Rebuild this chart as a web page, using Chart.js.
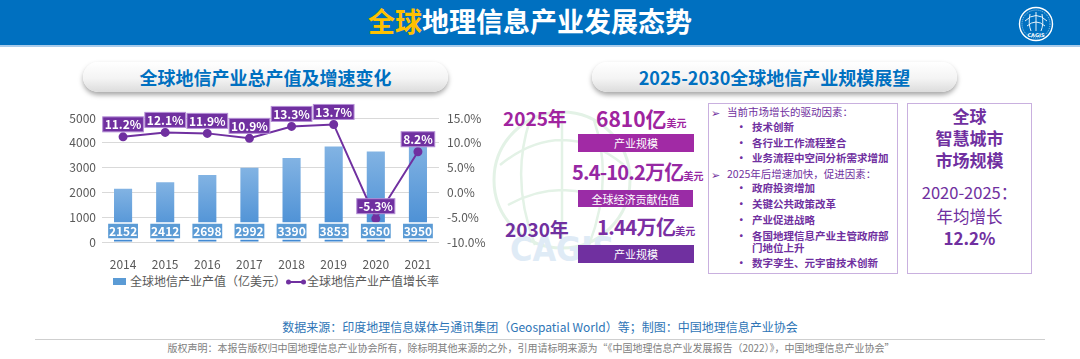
<!DOCTYPE html>
<html><head><meta charset="utf-8">
<script src="https://cdn.jsdelivr.net/npm/chart.js@4.4.1/dist/chart.umd.min.js"></script>
<style>
html,body{margin:0;padding:0;width:1080px;height:359px;overflow:hidden;background:#fff;font-family:"Noto Sans CJK SC","Noto Sans",sans-serif;}
.a{position:absolute;white-space:nowrap;line-height:1;}
.hdr{position:absolute;left:0;top:0;width:1080px;height:45px;background:#0070C0;}
.hdrline{position:absolute;left:0;top:45px;width:1080px;height:2px;background:#A9CBEA;}
.pill{position:absolute;height:30px;border-radius:15px;background:linear-gradient(to bottom,#FFFFFF 0%,#F4F4F4 55%,#DCDCDC 100%);box-shadow:0 3px 5px rgba(0,0,0,0.35);display:flex;align-items:center;justify-content:center;color:#0070C0;font-weight:bold;font-size:18px;}
.tag{position:absolute;color:#fff;font-size:11px;display:flex;align-items:center;justify-content:center;}
.box{position:absolute;border:1.5px solid #C9B0DF;box-sizing:border-box;}
.mt{position:absolute;white-space:nowrap;line-height:1;font-size:10.5px;color:#7030A0;}
.b{font-weight:bold;}
.rt{position:absolute;left:907px;width:125px;text-align:center;white-space:nowrap;line-height:1;color:#7030A0;}
.u{font-size:10px;letter-spacing:0;}
</style></head><body>
<div class="hdr"></div><div class="hdrline"></div>
<div class="a" style="left:368px;top:7px;font-size:27px;font-weight:bold;color:#fff;"><span style="color:#FFC000">全球</span>地理信息产业发展态势</div>
<svg class="a" style="left:1016px;top:4px;" width="40" height="40" viewBox="0 0 40 40">
  <circle cx="20" cy="20" r="16.5" fill="none" stroke="#fff" stroke-width="1.4"/>
  <circle cx="20" cy="20" r="14" fill="none" stroke="#fff" stroke-width="0.6" stroke-dasharray="1 1"/>
  <path d="M9 17 Q20 6 31 17 M11 22 Q20 14 29 22 M20 8 L20 27 M14 10 Q12 20 15 27 M26 10 Q28 20 25 27" fill="none" stroke="#fff" stroke-width="0.9"/>
  <text x="20" y="33" font-size="5" font-weight="bold" fill="#fff" text-anchor="middle" font-family="DejaVu Sans">CAGIS</text>
</svg>

<div class="pill" style="left:83px;top:62px;width:365px;">全球地信产业总产值及增速变化</div>
<div class="pill" style="left:592px;top:62px;width:365px;">2025-2030全球地信产业规模展望</div>

<svg class="a" style="left:480px;top:95px;" width="200" height="180" viewBox="0 0 200 180">
  <circle cx="82" cy="85" r="68" fill="none" stroke="#E3F2E6" stroke-width="3"/>
  <path d="M20 70 Q82 20 144 70 M28 110 Q82 80 136 110 M82 17 L82 153 M50 25 Q30 85 55 150 M114 25 Q134 85 109 150" fill="none" stroke="#E3F2E6" stroke-width="2.5"/>
  <text x="30" y="166" font-size="34" font-weight="bold" fill="#DFEBF6" font-family="DejaVu Sans Condensed">CAGIS</text>
</svg>

<div style="position:absolute;left:0;top:100px;width:500px;height:171px;"><canvas id="c" width="500" height="171"></canvas></div>

<div class="a" style="left:113px;top:278px;width:13px;height:7px;background:#5B9BD5;"></div>
<div class="a" style="left:130px;top:275px;font-size:12px;color:#595959;">全球地信产业产值（亿美元）</div>
<svg class="a" style="left:285px;top:278px;" width="22" height="8"><line x1="3" y1="4" x2="19" y2="4" stroke="#7030A0" stroke-width="2"/><circle cx="3.5" cy="4" r="2.5" fill="#7030A0"/><circle cx="18.5" cy="4" r="2.5" fill="#7030A0"/></svg>
<div class="a" style="left:307px;top:275px;font-size:12px;color:#595959;">全球地信产业产值增长率</div>

<div class="a b" style="left:503px;top:108px;font-size:19px;color:#A0249F;">2025年</div>
<div class="a b" style="left:596px;top:108px;font-size:21px;color:#A0249F;">6810亿<span class="u">美元</span></div>
<div class="tag" style="left:578px;top:134px;width:116px;height:18px;background:#A12AA5;">产业规模</div>
<div class="a b" style="left:572px;top:162px;font-size:20px;letter-spacing:-0.8px;color:#9628A3;">5.4-10.2万亿<span class="u">美元</span></div>
<div class="tag" style="left:578px;top:190px;width:115px;height:17px;background:#9A2CA6;">全球经济贡献估值</div>
<div class="a b" style="left:505px;top:219px;font-size:19px;color:#7030A0;">2030年</div>
<div class="a b" style="left:597px;top:217px;font-size:20px;letter-spacing:-0.6px;color:#7B2EA3;">1.44万亿<span class="u">美元</span></div>
<div class="tag" style="left:578px;top:245px;width:116px;height:18px;background:#7030A0;">产业规模</div>

<div class="box" style="left:708px;top:103px;width:190px;height:171px;"></div>
<div id="mid"></div>

<div class="box" style="left:907px;top:103px;width:125px;height:171px;"></div>
<div class="rt b" style="top:107px;font-size:17px;">全球</div>
<div class="rt b" style="top:129px;font-size:17px;">智慧城市</div>
<div class="rt b" style="top:151px;font-size:17px;">市场规模</div>
<div class="rt" style="top:184px;font-size:16.5px;">2020-2025：</div>
<div class="rt" style="top:208px;font-size:16.5px;">年均增长</div>
<div class="rt b" style="top:229px;font-size:17px;">12.2%</div>

<div class="a" style="left:0;width:1080px;text-align:center;top:321px;font-size:12px;color:#2E75B6;">数据来源：印度地理信息媒体与通讯集团（Geospatial World）等；制图：中国地理信息产业协会</div>
<div class="a" style="left:35px;top:339px;width:1010px;height:1px;background:#CFCFCF;"></div>
<div class="a" style="left:0;width:1062px;text-align:center;top:343px;font-size:10px;color:#808080;">版权声明：本报告版权归中国地理信息产业协会所有，除标明其他来源的之外，引用请标明来源为“《中国地理信息产业发展报告（2022）》，中国地理信息产业协会”</div>

<script>
const years = ['2014','2015','2016','2017','2018','2019','2020','2021'];
const outputValues = [2152, 2412, 2698, 2992, 3390, 3853, 3650, 3950];
const growthRates = [11.2, 12.1, 11.9, 10.9, 13.3, 13.7, -5.3, 8.2];
const outputAxis = {min: 0, max: 5000, step: 1000};
const rateAxis = {min: -10, max: 15, step: 5};
const driverHeading = '当前市场增长的驱动因素：';
const driverItems = ['技术创新', '各行业工作流程整合', '业务流程中空间分析需求增加'];
const promoteHeading = '2025年后增速加快，促进因素：';
const promoteItems = ['政府投资增加', '关键公共政策改革', '产业促进战略', ['各国地理信息产业主管政府部', '门地位上升'], '数字孪生、元宇宙技术创新'];

// middle text box
(function(){
  const mid = document.getElementById('mid');
  const rows = [113,128,144,159,175,189,205,221,237,249,264];
  let r = 0, html = '';
  const add = (x, txt, bold, fs, dy) => { html += `<div class="mt${bold?' b':''}" style="left:${x}px;top:${rows[r]-6+(dy||0)}px;${fs?'font-size:'+fs+'px;':''}">${txt}</div>`; };
  const heading = (t) => { add(711, '➢', false, 11, -0.5); add(727, t, false); r++; };
  const items = (list) => list.forEach(it => {
    if (Array.isArray(it)) { add(736, '•', true); add(752, it[0], true); r++; add(752, it[1], true); r++; }
    else { add(736, '•', true); add(752, it, true); r++; }
  });
  heading(driverHeading); items(driverItems);
  heading(promoteHeading); items(promoteItems);
  mid.innerHTML = html;
})();

const FONT = '"Noto Sans CJK SC", "Noto Sans", sans-serif';
const labelPlugin = {
  id: 'valueLabels',
  afterDatasetsDraw(chart) {
    const c = chart.ctx, yS = chart.scales.y;
    c.save();
    c.font = 'bold 12px ' + FONT;
    c.textAlign = 'center'; c.textBaseline = 'middle';
    chart.getDatasetMeta(0).data.forEach((el, i) => {
      const t = String(outputValues[i]);
      const w = c.measureText(t).width + 3, h = 16;
      const cx = el.x, cy = yS.bottom - 11;
      c.fillStyle = '#5B9BD5'; c.fillRect(cx - w/2, cy - h/2, w, h);
      c.strokeStyle = '#FFFFFF'; c.lineWidth = 1.5; c.strokeRect(cx - w/2, cy - h/2, w, h);
      c.fillStyle = '#FFFFFF'; c.fillText(t, cx, cy + 0.5);
    });
    chart.getDatasetMeta(1).data.forEach((el, i) => {
      const t = growthRates[i].toFixed(1) + '%';
      const w = c.measureText(t).width + 4, h = 15;
      const cx = el.x, cy = el.y - 5 - h/2;
      c.fillStyle = '#7030A0'; c.fillRect(cx - w/2, cy - h/2, w, h);
      c.strokeStyle = '#B58FD6'; c.lineWidth = 1; c.strokeRect(cx - w/2, cy - h/2, w, h);
      c.fillStyle = '#FFFFFF'; c.fillText(t, cx, cy + 0.5);
    });
    c.restore();
  }
};

new Chart(document.getElementById('c'), {
  data: {
    labels: years,
    datasets: [
      { type: 'bar', label: '全球地信产业产值（亿美元）', data: outputValues, yAxisID: 'y', order: 1,
        categoryPercentage: 1, barPercentage: 0.43,
        backgroundColor: (ctx) => {
          const ch = ctx.chart; const area = ch.chartArea;
          if (!area || ctx.raw === undefined) return '#5B9BD5';
          const top = ch.scales.y.getPixelForValue(ctx.raw);
          const g = ch.ctx.createLinearGradient(0, top, 0, area.bottom);
          g.addColorStop(0, '#82B3E3'); g.addColorStop(1, '#4189D2');
          return g;
        } },
      { type: 'line', label: '全球地信产业产值增长率', data: growthRates, yAxisID: 'y1', order: 0,
        borderColor: '#7030A0', borderWidth: 2, tension: 0,
        pointRadius: 3.5, pointBackgroundColor: '#7030A0', pointBorderColor: '#7030A0' }
    ]
  },
  options: {
    responsive: false, animation: false,
    layout: { padding: { top: 18, left: 0, right: 0, bottom: 0 } },
    plugins: { legend: { display: false }, tooltip: { enabled: false } },
    scales: {
      x: { grid: { display: false }, border: { display: false },
           ticks: { color: '#595959', font: { size: 12, family: FONT }, padding: 7 },
           afterFit: (s) => { s.height = 29; } },
      y: { position: 'left', min: outputAxis.min, max: outputAxis.max,
           grid: { color: '#D9D9D9', drawTicks: false }, border: { display: false },
           ticks: { stepSize: outputAxis.step, color: '#595959', font: { size: 12, family: FONT }, padding: 6,
                    callback: (v) => String(v) },
           afterFit: (s) => { s.width = 102; } },
      y1: { position: 'right', min: rateAxis.min, max: rateAxis.max,
            grid: { display: false, drawTicks: false }, border: { display: false },
            ticks: { stepSize: rateAxis.step, color: '#595959', font: { size: 12, family: FONT }, padding: 8,
                     callback: (v) => v.toFixed(1) + '%' },
            afterFit: (s) => { s.width = 61; } }
    }
  },
  plugins: [labelPlugin]
});
</script>
</body></html>
